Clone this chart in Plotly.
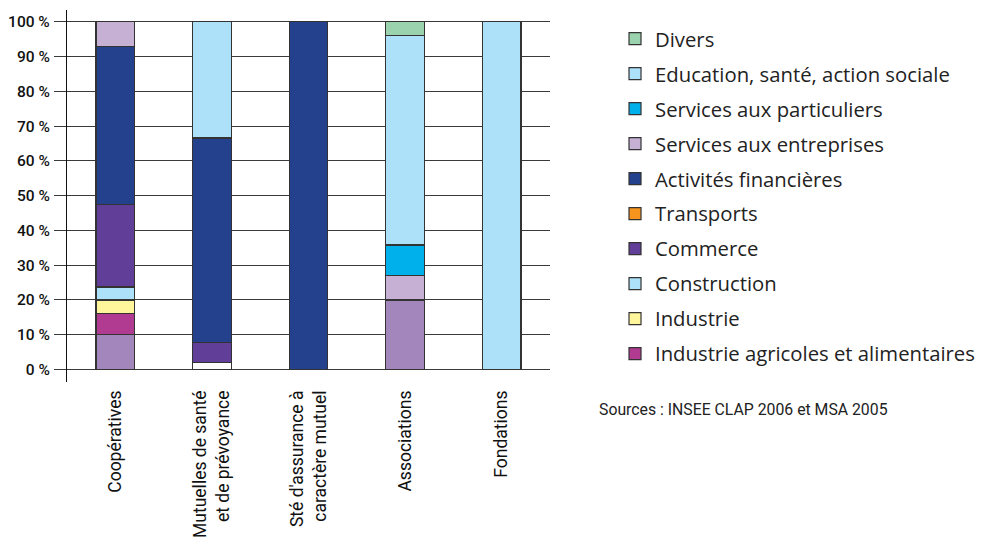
import plotly.graph_objects as go

categories = ["Coopératives", "Mutuelles de santé<br>et de prévoyance",
              "Sté d'assurance à<br>caractère mutuel", "Associations", "Fondations"]

# stacked from bottom to top
agriculture = [10, 0, 0, 20, 0]          # not in legend (lavender)
non_classe = [0, 1.9, 0, 0, 0]           # not in legend (white)
iaa = [6, 0, 0, 0, 0]
industrie = [4, 0, 0, 0, 0]
construction = [3.7, 0, 0, 0, 0]
commerce = [23.7, 5.8, 0, 0, 0]
transports = [0, 0, 0, 0, 0]
financieres = [45.4, 58.9, 100, 0, 0]
serv_entreprises = [7.3, 0, 0, 7, 0]
serv_particuliers = [0, 0, 0, 8.8, 0]
education = [0, 33.4, 0, 60.3, 100]
divers = [0, 0, 0, 4, 0]

series = [
    ("Agriculture", agriculture, "#A386BB", False),
    ("Non classé", non_classe, "#FFFFFF", False),
    ("Industrie agricoles et alimentaires", iaa, "#B23B92", True),
    ("Industrie", industrie, "#FFF59B", True),
    ("Construction", construction, "#ADE1F9", True),
    ("Commerce", commerce, "#613E98", True),
    ("Transports", transports, "#F7941E", True),
    ("Activités financières", financieres, "#24418D", True),
    ("Services aux entreprises", serv_entreprises, "#C6B1D5", True),
    ("Services aux particuliers", serv_particuliers, "#00B0EA", True),
    ("Education, santé, action sociale", education, "#ADE1F9", True),
    ("Divers", divers, "#9AD3AD", True),
]

ytickvals = [0, 10, 20, 30, 40, 50, 60, 70, 80, 90, 100]
yticktext = [f"{v} %" for v in ytickvals]

fig = go.Figure()
for i, (name, vals, color, show) in enumerate(series):
    fig.add_trace(go.Bar(
        x=categories, y=vals, name=name,
        marker=dict(color=color, line=dict(color="#333333", width=1.2)),
        showlegend=show, legendgroup=name, legendrank=1000 - i,
    ))

fig.add_annotation(text="Sources : INSEE CLAP 2006 et MSA 2005",
                   xref="paper", yref="paper", x=1.097, y=-0.0726,
                   xanchor="left", yanchor="middle", showarrow=False,
                   font=dict(family="Roboto", size=15.8, color="#222222"))

fig.update_layout(
    width=982, height=538,
    barmode="stack", bargap=0.6,
    plot_bgcolor="white", paper_bgcolor="white",
    margin=dict(l=67, r=432, t=10, b=156, autoexpand=False),
    font=dict(family="Roboto", color="#222222"),
    xaxis=dict(showgrid=False, zeroline=False, showline=False, ticks="",
               tickangle=-90, tickfont=dict(size=17.5, color="#111111"),
               ticklabelstandoff=4, automargin=False),
    yaxis=dict(range=[-3.6, 103.4], tickvals=ytickvals, ticktext=yticktext,
               showgrid=True, gridcolor="#3a3a3a", gridwidth=1.4,
               zeroline=False, showline=True, linecolor="#111111", linewidth=1.2,
               ticks="outside", ticklen=12, tickcolor="#3a3a3a", tickwidth=1.4,
               ticklabelstandoff=1, automargin=False,
               tickfont=dict(size=15.5, color="#111111", weight=500)),
    legend=dict(x=1.1346, xanchor="left", y=0.976, yanchor="top",
                traceorder="grouped", tracegroupgap=5.6,
                font=dict(family="Open Sans", size=20.3, color="#222222"),
                bgcolor="rgba(0,0,0,0)"),
)

fig.write_html("out.html", config={"displayModeBar": False},
               post_script="document.body.style.margin='0';document.body.style.padding='0';")
